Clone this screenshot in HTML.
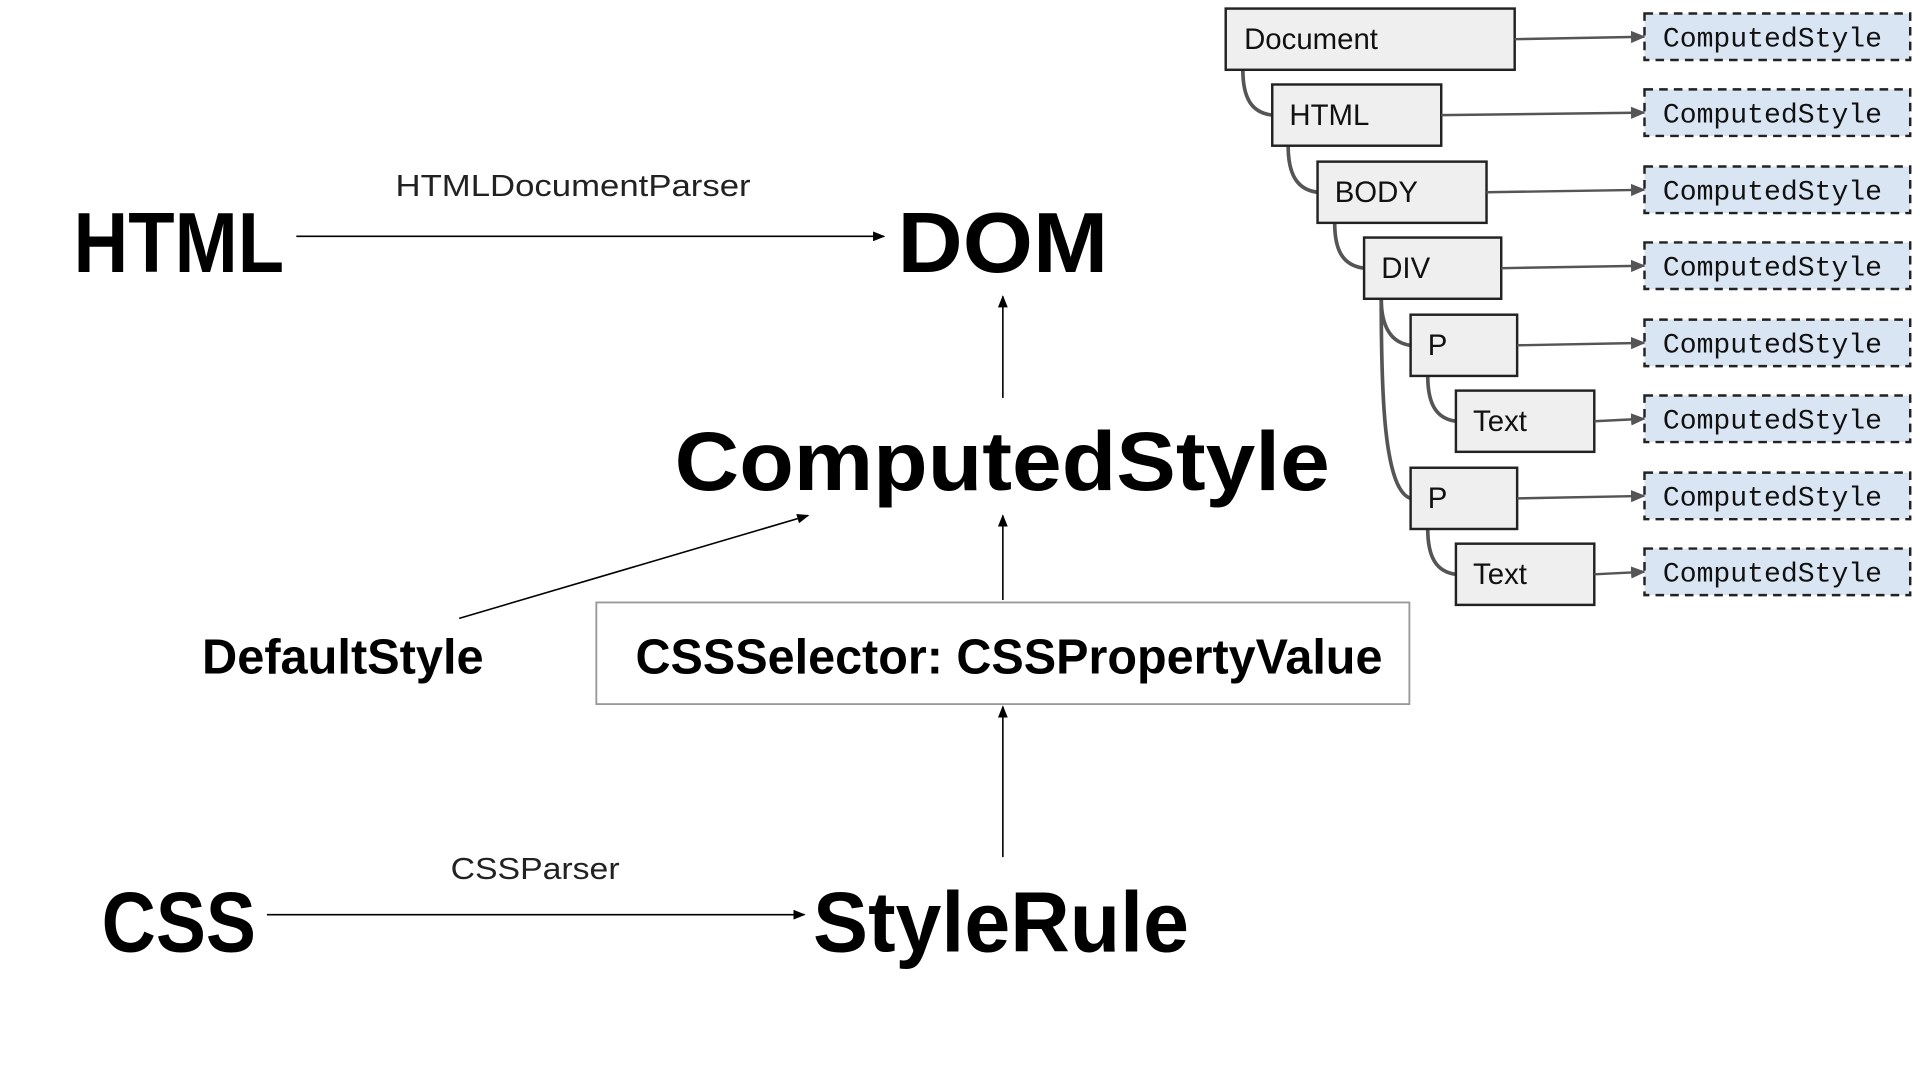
<!DOCTYPE html>
<html><head><meta charset="utf-8"><style>
html,body{margin:0;padding:0;background:#fff;width:1920px;height:1080px;overflow:hidden}
</style></head><body>
<svg width="1920" height="1080" viewBox="0 0 1568 882" xmlns="http://www.w3.org/2000/svg">
<defs>
<marker id="a" markerWidth="10" markerHeight="8" refX="9" refY="4" orient="auto" markerUnits="userSpaceOnUse"><path d="M0,0 L10,4 L0,8 z" fill="#000"/></marker>
<marker id="g" markerWidth="12" markerHeight="10" refX="11" refY="5" orient="auto" markerUnits="userSpaceOnUse"><path d="M0,0 L12,5 L0,10 z" fill="#555"/></marker>
</defs>
<g font-family="Liberation Sans, sans-serif" font-weight="bold" fill="#000">
<text x="60" y="222" font-size="70" textLength="172" lengthAdjust="spacingAndGlyphs">HTML</text>
<text x="733" y="222" font-size="70" textLength="172" lengthAdjust="spacingAndGlyphs">DOM</text>
<text x="551" y="400" font-size="68" textLength="535" lengthAdjust="spacingAndGlyphs">ComputedStyle</text>
<text x="165" y="550" font-size="40" textLength="230" lengthAdjust="spacingAndGlyphs">DefaultStyle</text>
<text x="519" y="550" font-size="40" textLength="610" lengthAdjust="spacingAndGlyphs">CSSSelector: CSSPropertyValue</text>
<text x="83" y="777" font-size="70" textLength="126" lengthAdjust="spacingAndGlyphs">CSS</text>
<text x="664" y="777" font-size="70" textLength="307" lengthAdjust="spacingAndGlyphs">StyleRule</text>
</g>
<g font-family="Liberation Sans, sans-serif" fill="#222" font-size="25">
<text x="323" y="160" textLength="290" lengthAdjust="spacingAndGlyphs">HTMLDocumentParser</text>
<text x="368" y="718" textLength="138" lengthAdjust="spacingAndGlyphs">CSSParser</text>
</g>
<rect x="487" y="492" width="664" height="83" fill="none" stroke="#999" stroke-width="1.5"/>
<g stroke="#000" stroke-width="1.3" fill="none" marker-end="url(#a)">
<line x1="242" y1="193" x2="722" y2="193"/>
<line x1="819" y1="325" x2="819" y2="242"/>
<line x1="375" y1="505" x2="660" y2="421"/>
<line x1="819" y1="490" x2="819" y2="421"/>
<line x1="819" y1="700" x2="819" y2="577"/>
<line x1="218" y1="747" x2="657" y2="747"/>
</g>
<!-- tree curves -->
<g stroke="#555" stroke-width="3" fill="none">
<path d="M1015,57 C1015,80 1022,92 1039,94"/>
<path d="M1052,119 C1052,142 1059,155 1076,157"/>
<path d="M1090,182 C1090,205 1097,217 1114,219"/>
<path d="M1128,244 C1128,265 1135,280 1152,282"/>
<path d="M1128,244 C1128,320 1130,400 1152,407"/>
<path d="M1166,307 C1166,330 1173,342 1189,344"/>
<path d="M1166,432 C1166,455 1173,467 1189,469"/>
</g>
<g fill="#efefef" stroke="#222" stroke-width="2">
<rect x="1001" y="7" width="236" height="50"/>
<rect x="1039" y="69" width="138" height="50"/>
<rect x="1076" y="132" width="138" height="50"/>
<rect x="1114" y="194" width="112" height="50"/>
<rect x="1152" y="257" width="87" height="50"/>
<rect x="1189" y="319" width="113" height="50"/>
<rect x="1152" y="382" width="87" height="50"/>
<rect x="1189" y="444" width="113" height="50"/>
</g>
<g font-family="Liberation Sans, sans-serif" font-size="24" fill="#111">
<text x="1016" y="40">Document</text>
<text x="1053" y="102">HTML</text>
<text x="1090" y="165">BODY</text>
<text x="1128" y="227">DIV</text>
<text x="1166" y="290">P</text>
<text x="1203" y="352">Text</text>
<text x="1166" y="415">P</text>
<text x="1203" y="477">Text</text>
</g>
<g stroke="#555" stroke-width="2" fill="none" marker-end="url(#g)">
<line x1="1237" y1="32" x2="1343" y2="30"/>
<line x1="1177" y1="94" x2="1343" y2="92"/>
<line x1="1214" y1="157" x2="1343" y2="155"/>
<line x1="1226" y1="219" x2="1343" y2="217"/>
<line x1="1239" y1="282" x2="1343" y2="280"/>
<line x1="1302" y1="344" x2="1343" y2="342"/>
<line x1="1239" y1="407" x2="1343" y2="405"/>
<line x1="1302" y1="469" x2="1343" y2="467"/>
</g>
<g fill="#d9e5f2" stroke="#222" stroke-width="2" stroke-dasharray="7,5">
<rect x="1343" y="11" width="217" height="38"/>
<rect x="1343" y="73" width="217" height="38"/>
<rect x="1343" y="136" width="217" height="38"/>
<rect x="1343" y="198" width="217" height="38"/>
<rect x="1343" y="261" width="217" height="38"/>
<rect x="1343" y="323" width="217" height="38"/>
<rect x="1343" y="386" width="217" height="38"/>
<rect x="1343" y="448" width="217" height="38"/>
</g>
<g font-family="Liberation Mono, monospace" font-size="23" fill="#111">
<text x="1358" y="38" textLength="179" lengthAdjust="spacingAndGlyphs">ComputedStyle</text>
<text x="1358" y="100" textLength="179" lengthAdjust="spacingAndGlyphs">ComputedStyle</text>
<text x="1358" y="163" textLength="179" lengthAdjust="spacingAndGlyphs">ComputedStyle</text>
<text x="1358" y="225" textLength="179" lengthAdjust="spacingAndGlyphs">ComputedStyle</text>
<text x="1358" y="288" textLength="179" lengthAdjust="spacingAndGlyphs">ComputedStyle</text>
<text x="1358" y="350" textLength="179" lengthAdjust="spacingAndGlyphs">ComputedStyle</text>
<text x="1358" y="413" textLength="179" lengthAdjust="spacingAndGlyphs">ComputedStyle</text>
<text x="1358" y="475" textLength="179" lengthAdjust="spacingAndGlyphs">ComputedStyle</text>
</g>
</svg>
</body></html>
